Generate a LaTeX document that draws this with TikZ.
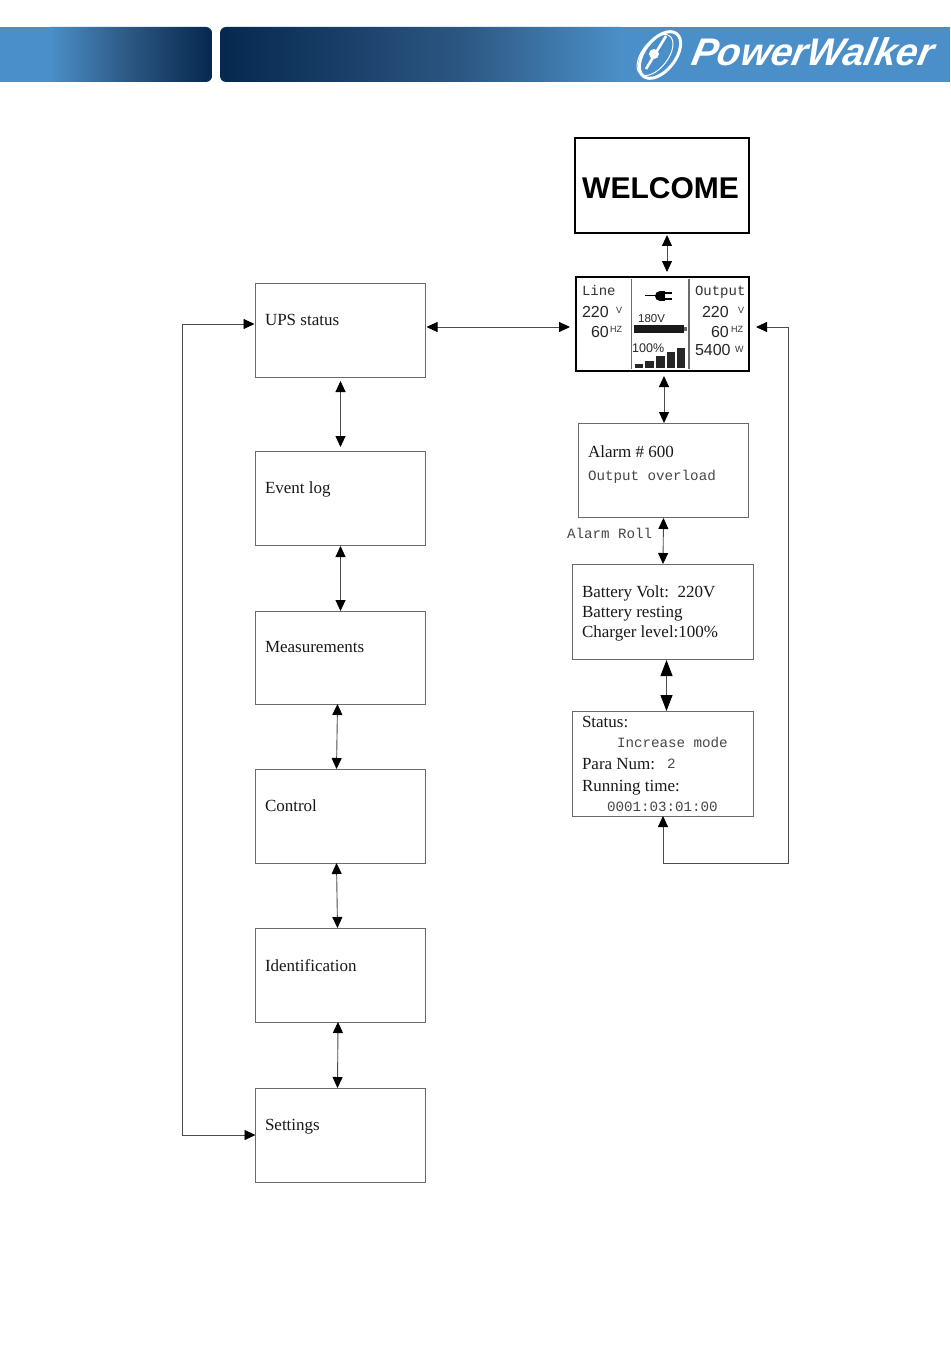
\documentclass[tikz,border=0pt]{standalone}
\usepackage{fontspec}
\setmainfont{Liberation Serif}
\newfontfamily\lsans{Liberation Sans}
\newfontfamily\lmono{Liberation Mono}
\usetikzlibrary{arrows.meta}
\definecolor{hdark}{HTML}{05284E}
\definecolor{hmid}{HTML}{2C5682}
\definecolor{hlight}{HTML}{4A8FC7}
\definecolor{bline}{HTML}{6A6A6A}
\tikzset{
  boxn/.style={draw=bline,line width=0.8pt,fill=white,anchor=north west,inner sep=0pt,outer sep=0pt,minimum width=#1},
  boxn/.default=170pt,
  lcdbox/.style={draw=black,line width=1.5pt,fill=white,anchor=north west,inner sep=0pt,outer sep=0pt},
  lbl/.style={anchor=base west,inner sep=0pt,outer sep=0pt,text=black!90,font=\fontsize{17}{20}\selectfont},
  mono/.style={anchor=base west,inner sep=0pt,outer sep=0pt,text=black!72,font=\lmono\fontsize{14.2}{16}\selectfont},
  lcdn/.style={anchor=base west,inner sep=0pt,outer sep=0pt,text=black!85,font=\lsans\fontsize{16}{18}\selectfont},
  lcds/.style={anchor=base west,inner sep=0pt,outer sep=0pt,text=black!80,font=\lsans\fontsize{9}{10}\selectfont},
  conn/.style={draw=black!70,line width=0.9pt,{Triangle[length=11pt,width=10pt,black]}-{Triangle[length=11pt,width=10pt,black]}},
  connb/.style={draw=black!70,line width=1pt,{Triangle[length=16pt,width=12pt,black]}-{Triangle[length=16pt,width=12pt,black]}},
  gap/.style={shorten <=#1,shorten >=#1},
  hdrtext/.style={text=white,inner sep=0pt,outer sep=0pt,anchor=base west}
}
\begin{document}
\begin{tikzpicture}[x=1pt,y=-1pt]
\useasboundingbox (0,0) rectangle (950,1348);
\fill[white] (0,0) rectangle (950,1348);
% header band
\begin{scope}
\clip[rounded corners=6pt] (-20,27) rectangle (212,82);
\fill[hlight] (0,27) rectangle (50,82);
\shade[left color=hlight,right color=hmid] (50,27) rectangle (130,82);
\shade[left color=hmid,right color=hdark] (130,27) rectangle (212,82);
\end{scope}
\begin{scope}
\clip[rounded corners=6pt] (220,27) rectangle (980,82);
\shade[left color=hdark,right color=hmid] (220,27) rectangle (460,82);
\shade[left color=hmid,right color=hlight] (460,27) rectangle (620,82);
\fill[hlight] (620,27) rectangle (950,82);
\end{scope}
% logo
\draw[white,line width=3pt,rotate around={-38:(660,55)}] (660,55) ellipse [x radius=15.5,y radius=27];
\draw[white,line width=1pt,rotate around={-38:(655,55)}] (655,55) ellipse [x radius=13,y radius=24];
\draw[white,line width=2.6pt] (666,36) -- (646,69);
\fill[white] (654,54) circle (5);
\node[hdrtext,xslant=0.2,transform shape,font=\lsans\bfseries\itshape\fontsize{38.5}{40}\selectfont] (brand) at (690,66) {PowerWalker};
% left column
\node[boxn,minimum height=94pt] (ups) at (255.5,283) {};
\node[boxn,minimum height=94pt] (event) at (255.5,451) {};
\node[boxn,minimum height=93pt] (meas) at (255.5,611) {};
\node[boxn,minimum height=94pt] (control) at (255.5,769) {};
\node[boxn,minimum height=94pt] (ident) at (255.5,928) {};
\node[boxn,minimum height=94pt] (settings) at (255.5,1088) {};
\node[lbl] (tups) at (265,325) {UPS status};
\node[lbl] (tevent) at (265,493) {Event log};
\node[lbl] (tmeas) at (265,652) {Measurements};
\node[lbl] (tcontrol) at (265,811) {Control};
\node[lbl] (tident) at (265,971) {Identification};
\node[lbl] (tsettings) at (265,1130) {Settings};
% right column
\node[lcdbox,minimum width=174pt,minimum height=95pt] (welcome) at (575,138) {};
\node[anchor=base,inner sep=0pt,font=\lsans\bfseries\fontsize{30}{32}\selectfont] (twelcome) at (660.5,199) {WELCOME};
\node[lcdbox,minimum width=173pt,minimum height=94pt] (lcd) at (576,277) {};
\node[boxn=170pt,minimum height=94pt] (alarm) at (578.5,423) {};
\node[boxn=181pt,minimum height=95pt] (batt) at (572.5,564) {};
\node[boxn=181pt,minimum height=105pt] (status) at (572.5,711) {};
% LCD contents
\draw[bline,line width=1.5pt] (631.5,279) -- (631.5,369);
\draw[bline,line width=1.5pt] (689,279) -- (689,369);
\node[mono,text=black!80,font=\lmono\fontsize{14}{16}\selectfont] (lline) at (582,295) {Line};
\node[mono,text=black!80,font=\lmono\fontsize{14}{16}\selectfont] (loutput) at (695,295) {Output};
\node[lcdn] (l220a) at (582,317) {220};
\node[lcds] (lva) at (616,313) {V};
\node[lcdn] (l60a) at (591,337) {60};
\node[lcds] (lhza) at (610,332) {HZ};
\node[lcdn] (l220b) at (702,317) {220};
\node[lcds] (lvb) at (738,313) {V};
\node[lcdn] (l60b) at (711,337) {60};
\node[lcds] (lhzb) at (731,332) {HZ};
\node[lcdn] (l5400) at (695,355) {5400};
\node[lcds] (lw) at (735,352) {W};
\node[anchor=base west,inner sep=0pt,font=\lsans\fontsize{11.5}{13}\selectfont,text=black!85] (l180) at (638,322) {180V};
\node[anchor=base west,inner sep=0pt,font=\lsans\fontsize{12.5}{14}\selectfont,text=black!85] (l100) at (632,352) {100\%};
% plug icon
\draw[black,line width=1pt] (645,295.5) -- (656,295.5);
\fill[black] (660,296) circle (5);
\fill[black] (660,291) rectangle (665,301);
\fill[black] (664,291.5) rectangle (672,293.5);
\fill[black] (664,297.5) rectangle (672,299.5);
% battery bar
\fill[black!90] (633.5,324.5) rectangle (684,333);
\fill[black!60] (684,326.5) rectangle (686.5,331);
% level bars
\fill[black!85] (635,364) rectangle (643,367.5);
\fill[black!85] (645,361) rectangle (654,367.5);
\fill[black!85] (656,356) rectangle (665,367.5);
\fill[black!85] (667,352) rectangle (675,367.5);
\fill[black!85] (677,347.5) rectangle (685,367.5);
% box texts
\node[lbl] (talarm) at (588,457) {Alarm \# 600};
\node[mono] (tover) at (588,480) {Output overload};
\node[mono] (troll) at (567,538) {Alarm Roll};
\node[lbl] (tb1) at (582,597) {Battery Volt:\ \ 220V};
\node[lbl] (tb2) at (582,617) {Battery resting};
\node[lbl] (tb3) at (582,637) {Charger level:100\%};
\node[lbl] (ts1) at (582,727) {Status:};
\node[mono] (ts2) at (617,747) {Increase mode};
\node[lbl] (ts3) at (582,769) {Para Num:};
\node[mono] (ts3b) at (667,768) {2};
\node[lbl] (ts4) at (582,791) {Running time:};
\node[mono] (ts5) at (607,811) {0001:03:01:00};
% connectors
\draw[conn,gap=4pt] (ups.south) -- (event.north);
\draw[conn,shorten <=1pt] (event.south) -- (meas.north);
\draw[conn] ([xshift=-3pt]meas.south) -- ([xshift=-4pt]control.north);
\draw[conn] ([xshift=-4pt]control.south) -- ([xshift=-3pt]ident.north);
\draw[conn] ([xshift=-2.5pt]ident.south) -- ([xshift=-3pt]settings.north);
\draw[conn,shorten <=1pt,shorten >=6pt] ([yshift=3pt]ups.east) -- ([yshift=-3pt]lcd.west);
\draw[conn,shorten <=1pt] ([yshift=6pt]ups.west) -- ++(-73,0) |- (settings.west);
\draw[conn,shorten <=2pt,shorten >=5pt] ([xshift=5pt]welcome.south) -- ([xshift=4.5pt]lcd.north);
\draw[conn,shorten <=5pt] ([xshift=1.5pt]lcd.south) -- ([xshift=.5pt]alarm.north);
\draw[conn,shorten <=1pt] (alarm.south) -- (batt.north);
\draw[connb,shorten <=1pt] ([xshift=3.5pt]batt.south) -- ([xshift=3.5pt]status.north);
\coordinate (loopa) at (788,327);
\coordinate (loopb) at (788,863);
\draw[conn,shorten <=7pt] ([yshift=-3pt]lcd.east) -- (loopa) -- (loopb) -| (status.south);
\end{tikzpicture}
\end{document}
